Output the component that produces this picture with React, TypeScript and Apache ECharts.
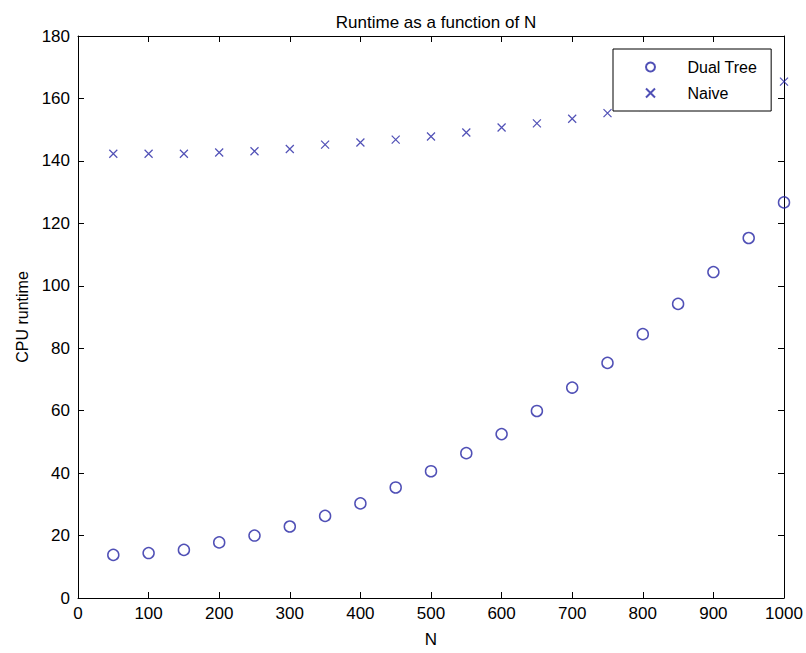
import React, { useEffect, useRef } from "react";
import * as echarts from "echarts";

const nValues = [50, 100, 150, 200, 250, 300, 350, 400, 450, 500, 550, 600, 650, 700, 750, 800, 850, 900, 950, 1000];
const dualTree = [13.8, 14.4, 15.4, 17.8, 20.0, 22.9, 26.3, 30.3, 35.4, 40.6, 46.4, 52.5, 59.9, 67.4, 75.3, 84.5, 94.2, 104.4, 115.3, 126.7];
const naive = [142.3, 142.3, 142.3, 142.7, 143.1, 143.8, 145.2, 145.9, 146.8, 147.8, 149.1, 150.7, 152.0, 153.5, 155.3, 157.3, 159.5, 161.8, 163.6, 165.4];

const FONT = "'Liberation Sans', Arial, Helvetica, sans-serif";
const MARK = "#2424a4";
const CROSS = "path://M0,0L10,10M10,0L0,10";

export default function App() {
  const ref = useRef<HTMLDivElement>(null);
  useEffect(() => {
    if (!ref.current) return;
    const chart = echarts.init(ref.current, undefined, { renderer: "svg" });
    const tickStyle = { show: true, inside: true, length: 6, lineStyle: { color: "#000", width: 1 } };
    const axisLine = { show: true, onZero: false, lineStyle: { color: "#000", width: 1 } };
    const label = { color: "#000", fontFamily: FONT, fontSize: 17, formatter: (v: number) => String(v) };
    chart.setOption({
      animation: false,
      backgroundColor: "#fff",
      title: {
        text: "Runtime as a function of N",
        left: 431,
        top: 9,
        textAlign: "center",
        textStyle: { color: "#000", fontFamily: FONT, fontSize: 17, fontWeight: "normal" },
      },
      grid: { left: 78, right: 22, top: 36, bottom: 54, show: false },
      legend: {
        orient: "vertical",
        left: 613,
        top: 49,
        padding: [10, 14, 10, 32],
        itemGap: 10,
        itemWidth: 64,
        itemHeight: 9,
        z: 10,
        backgroundColor: "#fff",
        borderColor: "#000",
        borderWidth: 1,
        borderRadius: 0,
        textStyle: { color: "#000", fontFamily: FONT, fontSize: 16 },
        data: ["Dual Tree", "Naive"],
      },
      xAxis: [
        {
          type: "value",
          min: 0,
          max: 1000,
          interval: 100,
          name: "N",
          nameLocation: "middle",
          nameGap: 33,
          nameTextStyle: { color: "#000", fontFamily: FONT, fontSize: 17 },
          axisLine,
          axisTick: tickStyle,
          axisLabel: { ...label, margin: 7 },
          splitLine: { show: false },
        },
        {
          type: "value",
          position: "top",
          min: 0,
          max: 1000,
          interval: 100,
          axisLine,
          axisTick: tickStyle,
          axisLabel: { show: false },
          splitLine: { show: false },
        },
      ],
      yAxis: [
        {
          type: "value",
          min: 0,
          max: 180,
          interval: 20,
          name: "CPU runtime",
          nameLocation: "middle",
          nameGap: 48,
          nameTextStyle: { color: "#000", fontFamily: FONT, fontSize: 16 },
          axisLine,
          axisTick: tickStyle,
          axisLabel: { ...label, margin: 8 },
          splitLine: { show: false },
        },
        {
          type: "value",
          position: "right",
          min: 0,
          max: 180,
          interval: 20,
          axisLine,
          axisTick: tickStyle,
          axisLabel: { show: false },
          splitLine: { show: false },
        },
      ],
      series: [
        {
          name: "Dual Tree",
          type: "scatter",
          symbol: "circle",
          symbolSize: 11,
          itemStyle: { color: "rgba(255,255,255,0)", borderColor: MARK, borderWidth: 1.5 },
          data: nValues.map((n, i) => [n, dualTree[i]]),
        },
        {
          name: "Naive",
          type: "scatter",
          symbol: CROSS,
          symbolSize: 8,
          itemStyle: { color: "rgba(255,255,255,0)", borderColor: MARK, borderWidth: 1.2 },
          data: nValues.map((n, i) => [n, naive[i]]),
        },
      ],
    });
    return () => chart.dispose();
  }, []);
  return <div ref={ref} style={{ position: "fixed", left: 0, top: 0, width: 806, height: 653 }} />;
}
